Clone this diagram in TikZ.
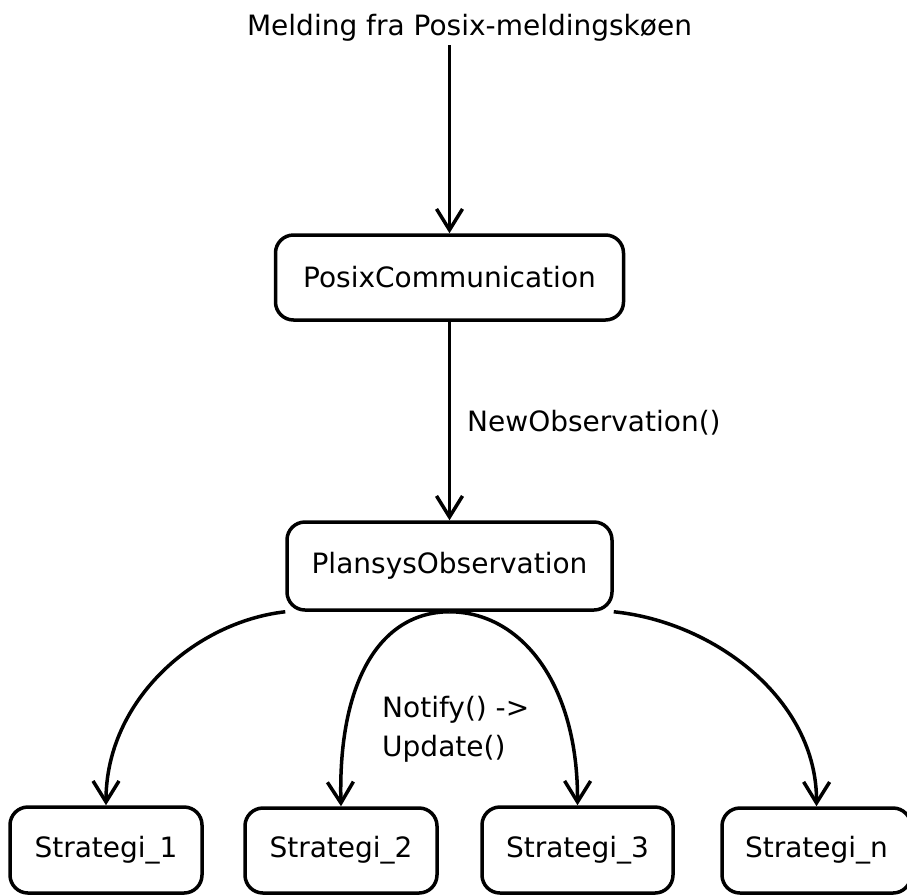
\documentclass[tikz,border=0pt]{standalone}
\usepackage{fontspec}
\setmainfont{DejaVu Sans}
\usetikzlibrary{arrows.meta}

\begin{document}
\begin{tikzpicture}[x=1pt, y=-1pt,
  every node/.style={font=\fontsize{28}{39}\selectfont, inner sep=0pt},
  state/.style={draw, line width=3.5pt, rounded corners=18pt},
  flow/.style={line width=3.5pt,
    -{Straight Barb[length=21pt, width=26pt, line width=3.5pt]}},
  label/.style={anchor=base west}
]
  % page frame
  \useasboundingbox (0,0) rectangle (907,895);

  % incoming message
  \node[anchor=base] (msg) at (469.5,35) {Melding fra Posix-meldingskøen};
  \coordinate (src) at (449.5,45);

  % states
  \node[state, minimum width=348pt, minimum height=85pt] (posix) at (449.5,277.5) {PosixCommunication};
  \node[state, minimum width=325pt, minimum height=88pt] (plansys) at (449.5,566) {PlansysObservation};
  \node[state, minimum width=192pt, minimum height=86pt] (s1) at (106,850) {Strategi\_1};
  \node[state, minimum width=192pt, minimum height=85pt] (s2) at (341,850.5) {Strategi\_2};
  \node[state, minimum width=191pt, minimum height=86pt] (s3) at (577.5,850) {Strategi\_3};
  \node[state, minimum width=189pt, minimum height=85pt] (sn) at (816.5,850.5) {Strategi\_n};

  % connectors
  \draw[flow] (src) -- (posix.north);
  \draw[flow] (posix.south) -- (plansys.north);
  \node[label] (newobs) at (467,431) {NewObservation()};

  \draw[flow] (plansys.south west) .. controls (195,622) and (106,700) .. (s1.north);
  \draw[flow] (plansys.south) .. controls (378,612) and (338,685) .. (s2.north);
  \draw[flow] (plansys.south) .. controls (522,612) and (578,685) .. (s3.north);
  \draw[flow] (plansys.south east) .. controls (715,622) and (817,700) .. (sn.north);

  \node[anchor=north west, align=left] (notify) at (382,696) {Notify() ->\\Update()};
\end{tikzpicture}
\end{document}
